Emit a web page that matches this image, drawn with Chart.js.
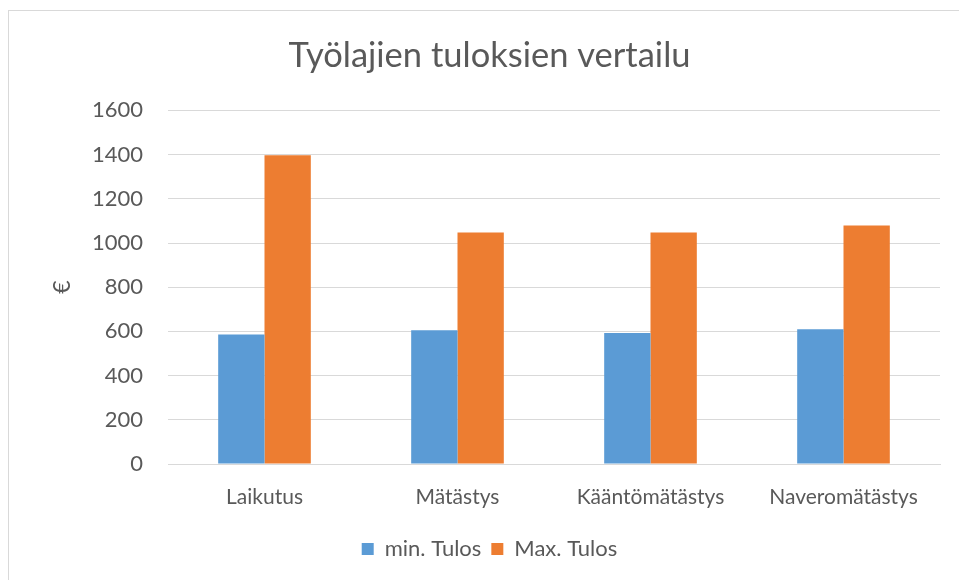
<!DOCTYPE html>
<html lang="fi">
<head>
  <meta charset="UTF-8">
  <title>Työlajien tuloksien vertailu</title>
  <script src="https://cdn.jsdelivr.net/npm/chart.js"></script>
  <style>
    html, body { margin: 0; padding: 0; background: #fff; overflow: hidden; }
    .frame {
      position: absolute; left: 8px; top: 10px;
      width: 1000px; height: 600px;
      border: 1px solid #d9d9d9;
    }
    .wrap { position: absolute; left: 0; top: 0; width: 979px; height: 580px; }
  </style>
</head>
<body>
  <div class="frame"></div>
  <div class="wrap"><canvas id="chart"></canvas></div>
  <script>
    // data
    const categories = ['Laikutus', 'Mätästys', 'Kääntömätästys', 'Naveromätästys'];
    const minTulos = [586, 605, 593, 610];
    const maxTulos = [1397, 1048, 1048, 1079];
    const seriesNames = ['min. Tulos', 'Max. Tulos'];
    const yTicks = [0, 200, 400, 600, 800, 1000, 1200, 1400, 1600];

    const textColor = '#595959';
    const fontFamily = 'Lato, "Open Sans", sans-serif';

    const ctx = document.getElementById('chart').getContext('2d');
    new Chart(ctx, {
      type: 'bar',
      data: {
        labels: categories,
        datasets: [
          { label: seriesNames[0], data: minTulos, backgroundColor: '#5b9bd5' },
          { label: seriesNames[1], data: maxTulos, backgroundColor: '#ed7d31' }
        ]
      },
      options: {
        responsive: true,
        maintainAspectRatio: false,
        animation: false,
        layout: { padding: { left: 39, right: 39, top: 0, bottom: 10 } },
        datasets: { bar: { categoryPercentage: 0.48, barPercentage: 1 } },
        plugins: {
          title: {
            display: true,
            text: 'Työlajien tuloksien vertailu',
            color: textColor,
            font: { family: fontFamily, size: 34.5, weight: 'normal' },
            padding: { top: 35, bottom: 34 }
          },
          legend: {
            position: 'bottom',
            labels: {
              color: textColor,
              font: { family: fontFamily, size: 22 },
              boxWidth: 12, boxHeight: 12,
              padding: 10
            }
          },
          tooltip: { enabled: false }
        },
        scales: {
          x: {
            grid: { display: false, drawTicks: false },
            border: { color: '#d9d9d9' },
            ticks: { color: textColor, font: { family: fontFamily, size: 21 }, padding: 21 },
            afterFit: (axis) => { axis.height = 64; }
          },
          y: {
            min: 0, max: 1600,
            afterBuildTicks: (axis) => { axis.ticks = yTicks.map(v => ({ value: v })); },
            grid: { color: '#d9d9d9', drawTicks: false },
            border: { display: false },
            ticks: {
              color: textColor, font: { family: fontFamily, size: 22 }, padding: 25,
              callback: (v) => String(v)
            },
            title: {
              display: true, text: '€', color: textColor,
              font: { family: fontFamily, size: 23 },
              padding: { top: 10, bottom: 0 }
            },
            afterFit: (axis) => { axis.width = 129; }
          }
        }
      }
    });
  </script>
</body>
</html>
